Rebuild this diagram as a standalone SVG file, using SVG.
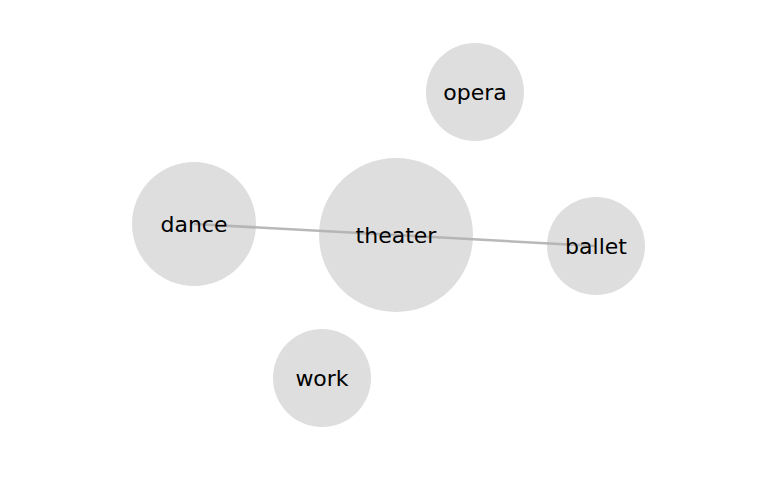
<svg xmlns="http://www.w3.org/2000/svg" width="770" height="500" viewBox="0 0 770 500">
<style>
.n{fill:#dedede}
.e{stroke:#b0b0b0;stroke-width:2.5;stroke-opacity:0.9;fill:none}
.t{font-family:"DejaVu Sans",sans-serif;font-size:22px;fill:#000;text-anchor:middle;dominant-baseline:central}
</style>
<rect width="770" height="500" fill="#fff"/>
<g id="nodes-bg">
<circle class="n" cx="396" cy="235" r="77"/>
<circle class="n" cx="194" cy="224" r="62"/>
<circle class="n" cx="596" cy="246" r="49"/>
<circle class="n" cx="475" cy="92" r="49"/>
<circle class="n" cx="322" cy="378" r="49"/>
</g>
<g id="edges">
<line class="e" x1="194" y1="224" x2="396" y2="235"/>
<line class="e" x1="396" y1="235" x2="596" y2="246"/>
</g>
<g id="theater"><text class="t" x="396" y="235">theater</text></g>
<g id="dance"><text class="t" x="194" y="224">dance</text></g>
<g id="ballet"><text class="t" x="596" y="246">ballet</text></g>
<g id="opera"><text class="t" x="475" y="92">opera</text></g>
<g id="work"><text class="t" x="322" y="378">work</text></g>
</svg>
